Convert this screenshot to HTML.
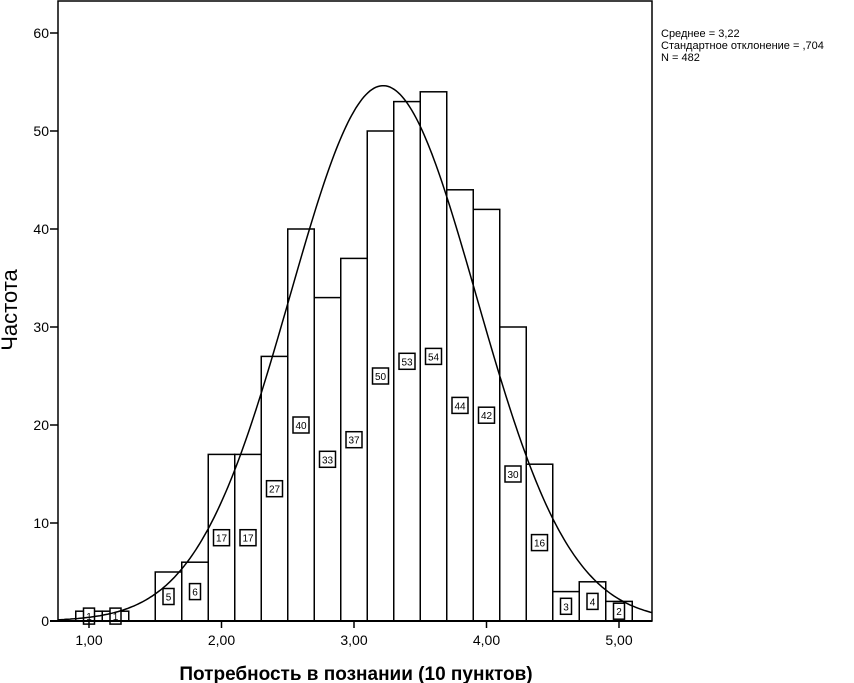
<!DOCTYPE html>
<html><head><meta charset="utf-8"><style>
body{margin:0;background:#fff;width:854px;height:683px;overflow:hidden}
svg{display:block;font-family:"Liberation Sans",sans-serif}
</style></head><body>
<svg id="chart" width="854" height="683" viewBox="0 0 854 683">
<g id="g"></g>
<text x="0" y="0" transform="translate(17,310) rotate(-90)" text-anchor="middle" font-size="22">Частота</text>
<text x="356" y="680" text-anchor="middle" font-size="19" font-weight="bold">Потребность в познании (10 пунктов)</text>
<g font-size="11">
<text x="661" y="37">Среднее = 3,22</text>
<text x="661" y="49">Стандартное отклонение = ,704</text>
<text x="661" y="61">N = 482</text>
</g>
</svg>
<script>
const binStarts=[0.9,1.1,1.5,1.7,1.9,2.1,2.3,2.5,2.7,2.9,3.1,3.3,3.5,3.7,3.9,4.1,4.3,4.5,4.7,4.9];
const counts=[1,1,5,6,17,17,27,40,33,37,50,53,54,44,42,30,16,3,4,2];
const yTicks=[0,10,20,30,40,50,60];
const xTicks=[1,2,3,4,5];
const xTickLabels=["1,00","2,00","3,00","4,00","5,00"];
const mean=3.22, sd=0.704, N=482, binW=0.2;
const NS="http://www.w3.org/2000/svg";
const g=document.getElementById('g');
const X=v=>89+(v-1)*132.5;
const Y=v=>621-v*9.8;
function el(t,a){const e=document.createElementNS(NS,t);for(const k in a)e.setAttribute(k,a[k]);g.appendChild(e);return e;}
let r=el('rect',{x:58,y:1,width:594,height:620,fill:'none',stroke:'#000','stroke-width':1.5});


binStarts.forEach((b,i)=>{
  const x0=X(b),x1=X(b+binW),y=Y(counts[i]);
  const bar=el('rect',{x:x0,y:y,width:x1-x0,height:621-y,fill:'#fff',stroke:'#000','stroke-width':1.5});
  
  
});
binStarts.forEach((b,i)=>{
  const cx=(X(b)+X(b+binW))/2, cy=Y(counts[i]/2);
  const t=String(counts[i]);
  const w=t.length>1?16:11;
  const bx=el('rect',{x:cx-w/2,y:cy-8,width:w,height:16,fill:'#fff',stroke:'#000','stroke-width':1.5});
  
  
  const tx=el('text',{x:cx,y:cy+4,'text-anchor':'middle','font-size':10});
  tx.textContent=t;
  
  
});
let d='';
for(let px=58;px<=652;px+=2){
  const v=1+(px-89)/132.5;
  const f=N*binW/(sd*Math.sqrt(2*Math.PI))*Math.exp(-0.5*((v-mean)/sd)**2);
  d+=(d?'L':'M')+px+','+Y(f).toFixed(1);
}
const c=el('path',{d:d,fill:'none',stroke:'#000','stroke-width':1.5});


const ax=el('line',{x1:50,y1:621,x2:652,y2:621,stroke:'#000','stroke-width':2});


yTicks.forEach(v=>{
  const tk=el('line',{x1:50,y1:Y(v),x2:58,y2:Y(v),stroke:'#000','stroke-width':1.5});
  
  
  const t=el('text',{x:49,y:Y(v)+5,'text-anchor':'end','font-size':14});
  t.textContent=v;
  
  
});
xTicks.forEach((v,i)=>{
  const tk=el('line',{x1:X(v),y1:621,x2:X(v),y2:628,stroke:'#000','stroke-width':1.5});
  
  
  const t=el('text',{x:X(v),y:645,'text-anchor':'middle','font-size':14});
  t.textContent=xTickLabels[i];
  
  
});
</script>
</body></html>
